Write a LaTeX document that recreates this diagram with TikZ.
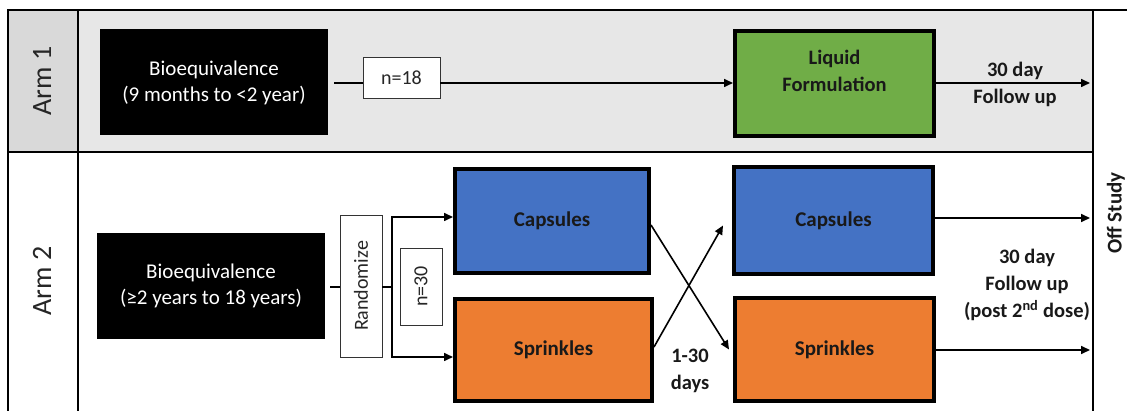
\documentclass[tikz,border=0pt]{standalone}
\usepackage{fontspec}
\setmainfont{Carlito}
\usetikzlibrary{arrows.meta}
\definecolor{cblue}{HTML}{4472C4}
\definecolor{corange}{HTML}{ED7D31}
\definecolor{cgreen}{HTML}{70AD47}
\definecolor{gdark}{HTML}{D9D9D9}
\definecolor{glight}{HTML}{E7E7E7}
\begin{document}
\begin{tikzpicture}[x=1pt,y=-1pt,
  blackbox/.style={fill=black, text=white, minimum width=228pt, minimum height=106pt, align=center, font=\fontsize{21}{26}\selectfont, inner sep=0pt},
  drugbox/.style={draw=black, line width=4pt, minimum width=199pt, align=center, font=\fontsize{21}{26}\selectfont\bfseries, inner sep=0pt, text=black!90},
  smallbox/.style={draw=black!80, fill=white, line width=0.8pt, inner sep=0pt, text=black!85, font=\fontsize{20}{22}\selectfont},
  conn/.style={line width=1.6pt},
  arr/.style={conn, -{Triangle[length=9pt,width=8pt]}},
  lbl/.style={align=center, text=black!90, font=\fontsize{20.5}{27}\selectfont\bfseries},
  armlbl/.style={rotate=90, text=black!85, font=\fontsize{28}{30}\selectfont}
]
\useasboundingbox (0,0) rectangle (1127,411);
\fill[gdark] (8,10) rectangle (78,152);
\fill[glight] (78,10) rectangle (1093,152);
\draw[line width=2pt] (8,411) -- (8,10) -- (1127,10);
\draw[line width=2pt] (78,10) -- (78,411);
\draw[line width=2pt] (8,152) -- (1093,152);
\draw[line width=2pt] (1093,10) -- (1093,411);

\node[armlbl] (arm1) at (42,81) {Arm 1};
\node[armlbl] (arm2) at (42,281) {Arm 2};

% Arm 1
\node[blackbox] (bk1) at (214,82.5) {Bioequivalence\\(9 months to <2 year)};
\node[smallbox, minimum width=77pt, minimum height=41pt] (n18) at (401.5,77.5) {n=18};
\node[drugbox, fill=cgreen, minimum height=105pt] (grn) at (834.5,83.5) {};
\node[lbl] (grntxt) at (834.5,71) {Liquid\\Formulation};
\node[lbl] (fu1) at (1015,84) {30 day\\Follow up};
\coordinate (end1) at (1090,83);
\draw[conn, shorten <=6pt] (bk1.east |- 0,83) -- (n18.west |- 0,83);
\draw[arr] (n18.east |- 0,83) -- (grn.west |- 0,83);
\draw[arr] (grn.east |- 0,83) -- (end1);

% Arm 2
\node[blackbox] (bk2) at (211,286) {Bioequivalence\\(≥2 years to 18 years)};
\node[smallbox, minimum width=42pt, minimum height=142pt] (rnd) at (361,286) {\rotatebox{90}{Randomize}};
\node[smallbox, minimum width=42pt, minimum height=77pt] (n30) at (421,286.5) {\rotatebox{90}{n=30}};
\node[drugbox, fill=cblue, minimum width=194pt, minimum height=104pt] (capL) at (552,221) {Capsules};
\node[drugbox, fill=corange, minimum width=197pt, minimum height=102pt] (sprL) at (553.5,350) {Sprinkles};
\node[drugbox, fill=cblue, minimum height=107pt] (capR) at (833.5,220.5) {Capsules};
\node[drugbox, fill=corange, minimum height=103pt] (sprR) at (834.5,349.5) {Sprinkles};

\coordinate (split) at (392,287);
\draw[conn, shorten <=5pt] (bk2.east |- 0,287) -- (rnd.west |- 0,287);
\draw[conn] (rnd.east |- 0,287) -- (split);
\draw[arr] (split) |- (capL.west |- 0,217);
\draw[arr] (split) |- (sprL.west |- 0,357);

\draw[arr] ([yshift=-4pt]capL.east) -- ([xshift=-4pt]sprR.west);
\draw[arr] ([yshift=3pt]sprL.east) -- ([xshift=-9pt,yshift=-5pt]capR.west);
\node[lbl] (days) at (690,371) {1-30\\days};

\coordinate (end2) at (1090,218);
\coordinate (end3) at (1090,350);
\draw[arr] (capR.east |- 0,218) -- (end2);
\draw[arr] (sprR.east |- 0,350) -- (end3);
\node[lbl] (fu2) at (1027,285) {30 day\\Follow up\\(post 2\textsuperscript{nd} dose)};
\node[rotate=90, text=black!90, font=\fontsize{21}{22}\selectfont\bfseries] (off) at (1116,213) {Off Study};
\end{tikzpicture}
\end{document}
